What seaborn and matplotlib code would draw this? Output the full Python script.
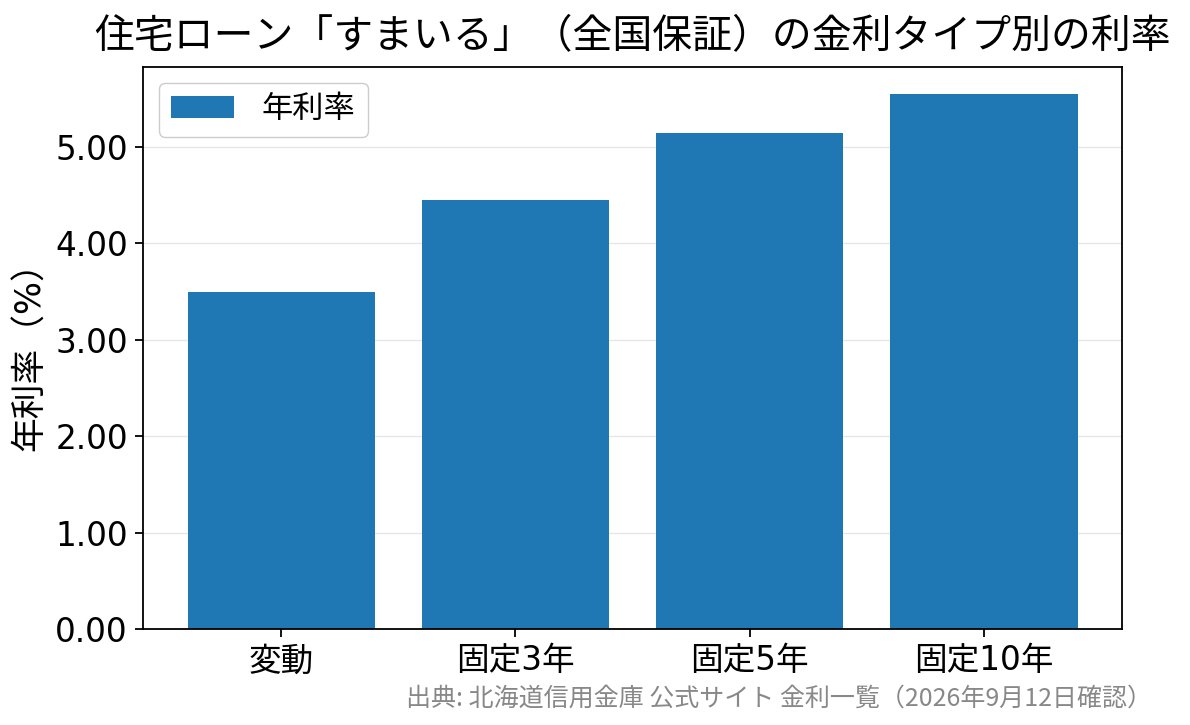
import matplotlib
matplotlib.use("Agg")
import matplotlib.pyplot as plt
import matplotlib.ticker as ticker
import pandas as pd
import seaborn as sns

# Data
categories = ["変動", "固定3年", "固定5年", "固定10年"]
rates = [3.50, 4.45, 5.15, 5.55]
series_name = "年利率"
title = "住宅ローン「すまいる」（全国保証）の金利タイプ別の利率"
ylabel = "年利率（%）"
source = "出典: 北海道信用金庫 公式サイト 金利一覧（2026年9月12日確認）"

df = pd.DataFrame({"type": categories, "rate": rates})

sns.set_theme(style="white")
plt.rcParams["font.family"] = ["DejaVu Sans", "Noto Sans CJK JP"]
plt.rcParams["text.color"] = "black"
plt.rcParams["axes.labelcolor"] = "black"
plt.rcParams["xtick.color"] = "black"
plt.rcParams["ytick.color"] = "black"

fig, ax = plt.subplots(figsize=(11.9, 7.25), dpi=100)
fig.subplots_adjust(left=0.1202, right=0.9429, top=0.9076, bottom=0.1324)

sns.barplot(data=df, x="type", y="rate", color="#1f77b4", saturation=1,
            width=0.8, label=series_name, linewidth=0, ax=ax)

ax.set_xlim(-0.59, 3.59)
ax.set_ylim(0, 5.83)
ax.yaxis.set_major_locator(ticker.MultipleLocator(1.0))
ax.yaxis.set_major_formatter(ticker.StrMethodFormatter("{x:.2f}"))
ax.grid(axis="y", color="#e6e6e6", linewidth=1)
ax.set_axisbelow(True)
for s in ax.spines.values():
    s.set_color("black")
    s.set_linewidth(1.3)
ax.tick_params(axis="both", labelsize=23.5, length=6, width=1.3,
               left=True, bottom=True, pad=5)
ax.set_xlabel("")
ax.set_ylabel(ylabel, fontsize=25, labelpad=6)
ax.set_title(title, fontsize=28.7, pad=14)
ax.legend(loc="upper left", fontsize=22.5, handletextpad=0.9,
          framealpha=1, edgecolor="#cccccc")

fig.text(0.968, 0.037, source, ha="right", va="center", fontsize=18,
         color="#888888", family=["Noto Sans CJK JP", "DejaVu Sans"])

fig.savefig("out.png", dpi=100)
